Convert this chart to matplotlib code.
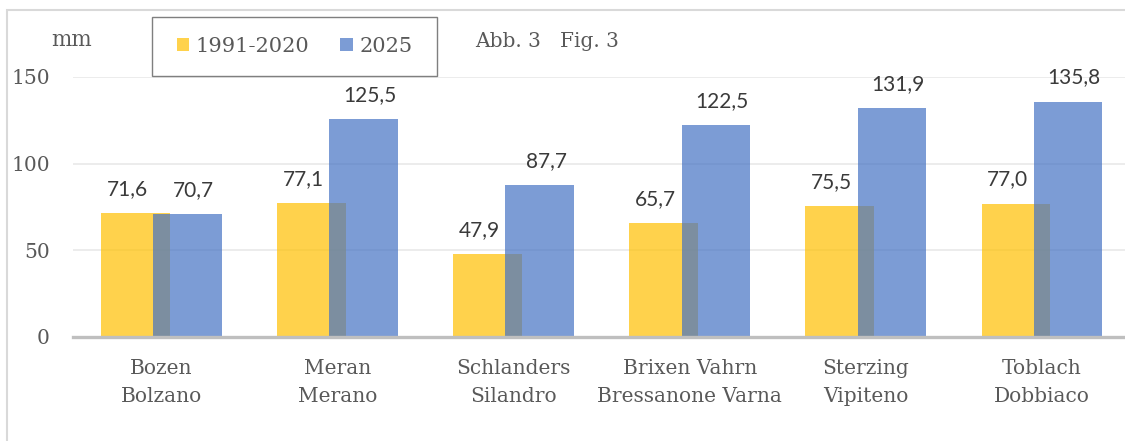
import matplotlib.pyplot as plt
import matplotlib.patches as patches
import numpy as np

# Niederschlag (mm)
stationen = ["Bozen\nBolzano", "Meran\nMerano", "Schlanders\nSilandro",
             "Brixen Vahrn\nBressanone Varna", "Sterzing\nVipiteno", "Toblach\nDobbiaco"]
werte_1991_2020 = [71.6, 77.1, 47.9, 65.7, 75.5, 77.0]
werte_2025 = [70.7, 125.5, 87.7, 122.5, 131.9, 135.8]
serien = ["1991-2020", "2025"]
y_ticks = [0, 50, 100, 150]

GELB = '#FFC000'
BLAU = '#4472C4'
GRAU_TXT = '#595959'
SERIF = 'DejaVu Serif'

W, H = 1125, 441
fig = plt.figure(figsize=(W / 100, H / 100), dpi=100)
ax = fig.add_axes([73.5 / W, (H - 337) / H, 1056.5 / W, 260 / H])

x = np.arange(len(stationen))
off = 0.148
bw = 0.39

b1 = ax.bar(x - off, werte_1991_2020, bw, color=GELB, alpha=0.7, zorder=2, label=serien[0])
b2 = ax.bar(x + off, werte_2025, bw, color=BLAU, alpha=0.7, zorder=3, label=serien[1])

for xi, v in zip(x, werte_1991_2020):
    ax.annotate(f"{v:.1f}".replace('.', ','), xy=(xi - off, v), xytext=(-6, 13),
                textcoords='offset points', ha='center', va='baseline',
                fontsize=15, family='Lato', color='#3A3A3A')
for xi, v in zip(x, werte_2025):
    ax.annotate(f"{v:.1f}".replace('.', ','), xy=(xi + off, v), xytext=(4.5, 13),
                textcoords='offset points', ha='center', va='baseline',
                fontsize=15, family='Lato', color='#3A3A3A')

ax.set_xlim(-0.5, 5.5)
ax.set_ylim(0, 150)
ax.set_yticks(y_ticks)
ax.set_xticks(x, labels=stationen)
ax.yaxis.grid(True, color='#EBEBEB', lw=1.3)
ax.set_axisbelow(True)
for s in ['top', 'right', 'left']:
    ax.spines[s].set_visible(False)
ax.spines['bottom'].set_color('#BFBFBF')
ax.spines['bottom'].set_linewidth(2.4)
ax.spines['bottom'].set_zorder(5)
ax.tick_params(axis='both', length=0)
ax.tick_params(axis='y', pad=17, labelsize=14.5, labelcolor=GRAU_TXT)
ax.tick_params(axis='x', pad=16, labelsize=14.5, labelcolor=GRAU_TXT)
for t in ax.get_xticklabels() + ax.get_yticklabels():
    t.set_family(SERIF)
for t in ax.get_xticklabels():
    t.set_linespacing(1.6)

# Legende mit eigenem Rahmen
fig.legend(handles=[b1, b2], labels=serien, loc='center',
           bbox_to_anchor=(294.5 / W, 1 - 46 / H), ncol=2, frameon=False,
           handlelength=0.6, handleheight=0.6, handletextpad=0.3, columnspacing=1.5,
           prop={'family': SERIF, 'size': 15}, labelcolor=GRAU_TXT)
fig.patches.append(patches.Rectangle((152 / W, 1 - 76 / H), 285 / W, 59 / H,
                                     transform=fig.transFigure, fill=False,
                                     edgecolor='#7F7F7F', lw=1))
# aeusserer Rahmen
fig.patches.append(patches.Rectangle((7 / W, -0.05), 1.2, (H - 10) / H + 0.05,
                                     transform=fig.transFigure, fill=False,
                                     edgecolor='#D9D9D9', lw=1.5))

fig.text(72 / W, 1 - 40 / H, "mm", ha='center', va='center', family=SERIF,
         fontsize=15.5, color=GRAU_TXT)
fig.text(475 / W, 1 - 47 / H, "Abb. 3   Fig. 3", ha='left', va='baseline', family=SERIF,
         fontsize=14.5, color=GRAU_TXT)

fig.savefig('out.png', dpi=100)
